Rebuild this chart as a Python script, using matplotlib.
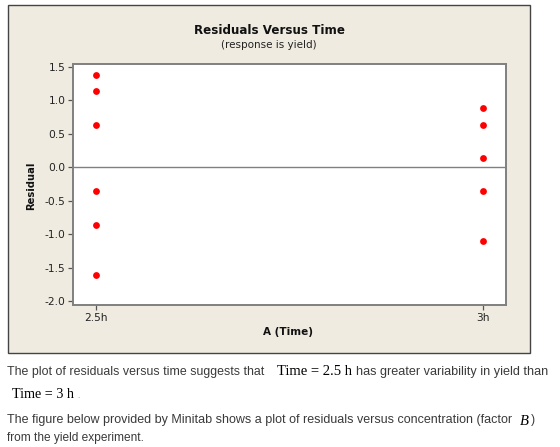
import matplotlib
matplotlib.use("Agg")
import matplotlib.pyplot as plt
from matplotlib.patches import Rectangle

# ---- data ----
time_labels = ["2.5h", "3h"]
resid_25h = [1.37, 1.13, 0.63, -0.36, -0.86, -1.61]
resid_3h = [0.88, 0.63, 0.14, -0.36, -1.10]
y_ticks = [1.5, 1.0, 0.5, 0.0, -0.5, -1.0, -1.5, -2.0]

W, H = 560, 447
fig = plt.figure(figsize=(W / 100, H / 100), dpi=100)
fig.patch.set_facecolor("white")
plt.rcParams["axes.unicode_minus"] = False

def fx(x):
    return x / W

def fy(y):
    return 1 - y / H

# beige panel
panel = Rectangle((fx(8), fy(353)), fx(530) - fx(8), fy(5) - fy(353),
                  transform=fig.transFigure, facecolor="#EFEBE1",
                  edgecolor="#444444", lw=1.0, zorder=-5)
fig.patches.append(panel)

ax = fig.add_axes([fx(73), fy(305), fx(506) - fx(73), fy(64) - fy(305)])
ax.set_zorder(2)
ax.set_facecolor("white")

ax.scatter([0] * len(resid_25h), resid_25h, s=24, color="#FF0000", zorder=3, linewidths=0)
ax.scatter([1] * len(resid_3h), resid_3h, s=24, color="#FF0000", zorder=3, linewidths=0)
ax.axhline(0, color="#808080", lw=1.0, zorder=2)

ax.set_xlim(-0.0594, 1.0594)
ax.set_ylim(-2.06, 1.54)
ax.set_xticks([0, 1])
ax.set_xticklabels(time_labels)
ax.set_yticks(y_ticks)
ax.set_yticklabels([f"{v:.1f}" for v in y_ticks])
for s in ["top", "right", "left", "bottom"]:
    ax.spines[s].set_color("#808080")
    ax.spines[s].set_linewidth(1.4)
ax.tick_params(axis="both", direction="out", length=3.5, width=0.9, color="#555555",
               labelsize=7.7, labelcolor="#222222", pad=2)

fig.canvas.draw()
renderer = fig.canvas.get_renderer()

def fit(t, target_w, axis="w"):
    fig.canvas.draw()
    bb = t.get_window_extent(renderer)
    cur = bb.width if axis == "w" else bb.height
    if cur > 0:
        t.set_fontsize(t.get_fontsize() * target_w / cur)
    return t

# titles
t1 = fig.text(fx(269), fy(30.7), "Residuals Versus Time", ha="center", va="center",
              fontsize=10, fontweight="bold", color="#111111", family="DejaVu Sans")
fit(t1, 151)
t2 = fig.text(fx(269), fy(44.5), "(response is yield)", ha="center", va="center",
              fontsize=8, color="#222222", family="DejaVu Sans")
fit(t2, 95)
xl = fig.text(fx(288), fy(332), "A (Time)", ha="center", va="center",
              fontsize=8, fontweight="bold", color="#111111", family="DejaVu Sans")
fit(xl, 50)
yl = fig.text(fx(30.7), fy(186), "Residual", ha="center", va="center", rotation=90,
              fontsize=8, fontweight="bold", color="#111111", family="DejaVu Sans")
fit(yl, 48, axis="h")

# body text below
sans = "Liberation Sans"
serif = "Liberation Serif"
gray = "#3a3a3a"

def put(x0, x1, yb, s, family, color, style="normal", size=9, weight="normal"):
    t = fig.text(fx(x0), fy(yb), s, ha="left", va="baseline", fontsize=size,
                 family=family, color=color, style=style, fontweight=weight)
    fit(t, x1 - x0)
    return t

put(7, 265, 374.5, "The plot of residuals versus time suggests that", sans, gray)
put(277, 352, 375, "Time = 2.5 h", serif, "#000000", size=11)
put(356, 548, 374.5, "has greater variability in yield than", sans, gray)
put(12, 74, 398.5, "Time = 3 h", serif, "#000000", size=11)
fig.text(fx(77), fy(398.5), ".", ha="left", va="baseline", fontsize=6, family=sans, color="#888888")
put(7, 513, 423.5, "The figure below provided by Minitab shows a plot of residuals versus concentration (factor",
    sans, gray)
put(520, 529, 425, "B", serif, "#000000", style="italic", size=11)
fig.text(fx(531), fy(423.5), ")", ha="left", va="baseline", fontsize=8.7, family=sans, color=gray)
put(7, 144, 441.5, "from the yield experiment.", sans, gray)

fig.savefig("out.png", dpi=100, facecolor="white")
